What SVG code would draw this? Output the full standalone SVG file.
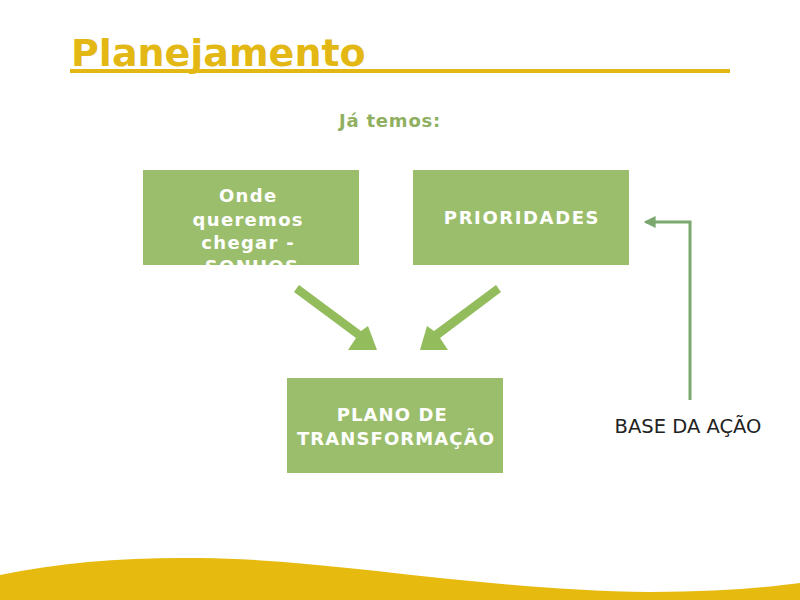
<svg xmlns="http://www.w3.org/2000/svg" width="800" height="600" viewBox="0 0 800 600">
  <defs>
    <style>
      .box { fill: #9BBE6D; }
      .boxtxt { font-family: "DejaVu Sans", Verdana, sans-serif; font-weight: bold; fill: #FFFFFF; text-anchor: middle; }
      .bigarrow { fill: #93BD5C; }
      .conn { fill: none; stroke: #7BA86E; stroke-width: 3; }
    </style>
    <marker id="ah" viewBox="0 0 10 10" refX="8" refY="5" markerWidth="4" markerHeight="4" orient="auto" markerUnits="strokeWidth">
      <path d="M0,0 L10,5 L0,10 z" fill="#7BA86E"/>
    </marker>
    <clipPath id="clip1">
      <rect x="143" y="170" width="216" height="95"/>
    </clipPath>
  </defs>
  <rect x="0" y="0" width="800" height="600" fill="#FFFFFF"/>

  <g id="title">
    <text x="71" y="66" font-family="DejaVu Sans, Verdana, sans-serif" font-weight="bold" font-size="38" fill="#E3B814">Planejamento</text>
    <rect x="70" y="69" width="660" height="4" fill="#E3B814"/>
  </g>

  <g id="subtitle">
    <text x="390" y="127" text-anchor="middle" font-family="DejaVu Sans, Verdana, sans-serif" font-weight="bold" font-size="18" letter-spacing="0.8" fill="#8FB060">Já temos:</text>
  </g>

  <g id="wave">
    <path d="M0,575 C60,562 130,557 200,558 C330,559 480,590 650,592 C720,592 770,587 800,583 L800,600 L0,600 Z" fill="#E6BA0E"/>
  </g>

  <g id="node-sonhos">
    <rect class="box" x="143" y="170" width="216" height="95"/>
    <g clip-path="url(#clip1)">
      <text class="boxtxt" font-size="18" letter-spacing="1.3">
        <tspan x="252" y="202">Onde</tspan>
        <tspan x="252" y="226">queremos</tspan>
        <tspan x="252" y="249">chegar -</tspan>
        <tspan x="252" y="273">SONHOS</tspan>
      </text>
    </g>
  </g>

  <g id="node-prioridades">
    <rect class="box" x="413" y="170" width="216" height="95"/>
    <text class="boxtxt" x="522" y="224" font-size="18" letter-spacing="1.6">PRIORIDADES</text>
  </g>

  <g id="node-plano">
    <rect class="box" x="287" y="378" width="216" height="95"/>
    <text class="boxtxt" font-size="18" letter-spacing="1.1">
      <tspan x="396" y="421">PLANO DE</tspan>
      <tspan x="396" y="445">TRANSFORMAÇÃO</tspan>
    </text>
  </g>

  <g id="label-base">
    <text x="688" y="433" text-anchor="middle" font-family="DejaVu Sans, Verdana, sans-serif" font-size="19.5" fill="#222222">BASE DA AÇÃO</text>
  </g>

  <g id="connectors">
    <path class="bigarrow" d="M294,292 L299,285 L361,331 L368,326 L377,350 L348,350 L356,338 Z"/>
    <path class="bigarrow" d="M501,292 L496,285 L434,331 L427,326 L420,350 L448,350 L440,338 Z"/>
    <path class="conn" d="M690,400 L690,222 L646,222" marker-end="url(#ah)"/>
  </g>
</svg>
